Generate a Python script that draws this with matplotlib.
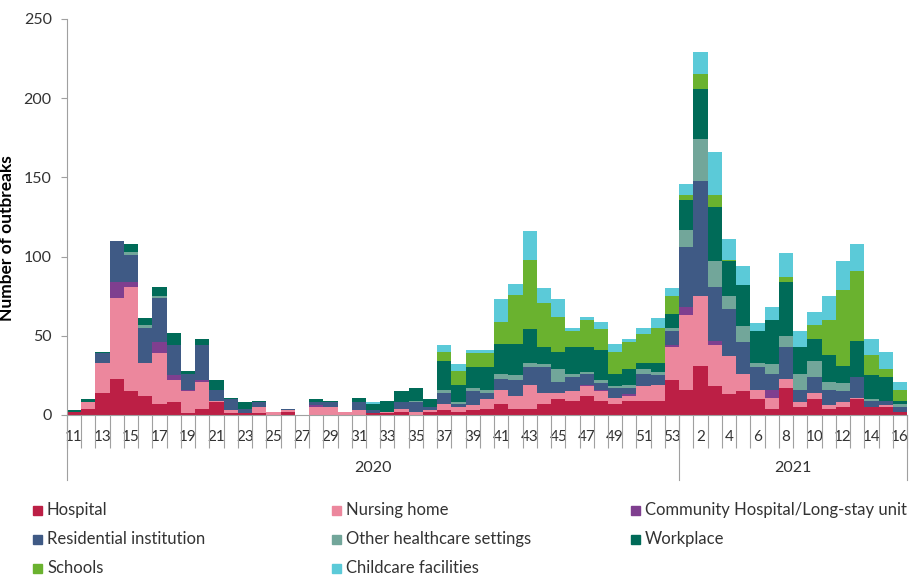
import matplotlib.pyplot as plt
from matplotlib import transforms
from matplotlib.patches import Rectangle

plt.rcParams['font.family'] = ['Lato', 'DejaVu Sans']

# weeks: 2020 wk 11-53, 2021 wk 1-16
weeks_2020 = list(range(11, 54))
weeks_2021 = list(range(1, 17))
week_labels = [str(w) for w in weeks_2020 + weeks_2021]

hospital = [2, 4, 14, 23, 15, 12, 7, 8, 1, 4, 8, 1, 1, 1, 0, 2, 0, 0, 0, 0, 0, 1, 1, 2, 0, 2,
            3, 2, 3, 4, 7, 4, 4, 7, 10, 9, 12, 9, 7, 9, 9, 9, 22,
            16, 31, 18, 13, 15, 10, 4, 17, 5, 10, 4, 5, 10, 5, 5, 2]
nursing = [0, 4, 19, 51, 66, 21, 32, 14, 14, 17, 1, 2, 0, 4, 2, 1, 0, 5, 5, 2, 3, 0, 1, 2, 2, 1,
           4, 3, 3, 6, 9, 8, 15, 7, 4, 6, 6, 6, 4, 3, 9, 10, 21,
           47, 44, 26, 24, 11, 6, 7, 6, 3, 4, 2, 3, 1, 0, 1, 0]
community = [0, 0, 0, 10, 3, 0, 7, 3, 1, 1, 0, 0, 0, 0, 0, 0, 0, 1, 0, 0, 0, 0, 0, 0, 0, 0,
             0, 0, 0, 0, 0, 0, 0, 0, 0, 0, 1, 1, 0, 1, 0, 0, 1,
             5, 0, 3, 0, 0, 0, 5, 0, 0, 0, 0, 0, 0, 0, 0, 0]
residential = [0, 0, 6, 26, 17, 22, 28, 19, 10, 22, 7, 7, 3, 3, 0, 1, 0, 2, 3, 0, 5, 2, 0, 4, 6, 2,
               7, 2, 9, 4, 7, 10, 11, 16, 7, 9, 7, 4, 6, 4, 8, 6, 9,
               38, 73, 34, 30, 20, 14, 10, 20, 8, 10, 10, 7, 13, 4, 3, 3]
other_hc = [0, 0, 0, 0, 2, 2, 1, 0, 0, 0, 0, 0, 0, 0, 0, 0, 0, 0, 0, 0, 0, 0, 0, 0, 1, 0,
            2, 1, 2, 2, 3, 3, 3, 2, 8, 2, 1, 2, 1, 2, 3, 2, 2,
            11, 26, 16, 8, 10, 3, 6, 7, 10, 10, 5, 5, 0, 1, 0, 2]
workplace = [1, 2, 1, 0, 5, 4, 6, 8, 2, 4, 6, 1, 4, 1, 0, 0, 0, 2, 1, 0, 3, 4, 7, 7, 8, 5,
             18, 11, 13, 14, 19, 20, 21, 11, 11, 17, 16, 19, 8, 10, 4, 6, 9,
             19, 32, 34, 22, 26, 20, 28, 34, 17, 14, 17, 11, 23, 15, 15, 2]
schools = [0, 0, 0, 0, 0, 0, 0, 0, 0, 0, 0, 0, 0, 0, 0, 0, 0, 0, 0, 0, 0, 0, 0, 0, 0, 0,
           6, 9, 9, 9, 14, 31, 44, 28, 22, 10, 17, 13, 14, 17, 18, 22, 11,
           3, 9, 8, 1, 0, 0, 0, 3, 0, 9, 22, 48, 44, 13, 5, 7]
childcare = [0, 0, 0, 0, 0, 0, 0, 0, 0, 0, 0, 0, 0, 0, 0, 0, 0, 0, 0, 0, 0, 1, 0, 0, 0, 0,
             4, 4, 2, 2, 14, 7, 18, 9, 11, 2, 2, 5, 5, 2, 4, 6, 5,
             7, 14, 27, 13, 12, 5, 8, 15, 10, 8, 15, 18, 17, 10, 11, 5]

series_names = ['Hospital', 'Nursing home', 'Community Hospital/Long-stay unit',
                'Residential institution', 'Other healthcare settings', 'Workplace',
                'Schools', 'Childcare facilities']
series = [hospital, nursing, community, residential, other_hc, workplace, schools, childcare]
colors = ['#BC1F45', '#EC879D', '#7F3F8F', '#3F5A85', '#72A69A', '#006B58', '#6AB22F', '#5BCAD8']

gray = '#A0A0A0'
txt = '#333333'
n = len(week_labels)

fig = plt.figure(figsize=(9.1, 5.77), dpi=100)
ax = fig.add_axes([67/910, 162/577, 840/910, 396/577])

x = list(range(n))
bottom = [0] * n
for vals, col in zip(series, colors):
    ax.bar(x, vals, width=1.0, bottom=bottom, color=col, linewidth=0)
    bottom = [b + v for b, v in zip(bottom, vals)]

ax.set_xlim(-0.5, n - 0.5)
ax.set_ylim(0, 250)
ax.set_yticks(range(0, 251, 50))
ax.tick_params(axis='y', direction='out', length=4, color=gray, labelsize=11.5,
               labelcolor=txt, pad=7)

# week labels on even positions, tick marks between every bar
ax.set_xticks(x[::2])
ax.set_xticklabels(week_labels[::2])
ax.set_xticks([i - 0.5 for i in range(n + 1)], minor=True)
ax.tick_params(axis='x', which='major', length=0, labelsize=11, labelcolor=txt, pad=11)
ax.tick_params(axis='x', which='minor', length=24, color=gray, width=0.8, direction='out')

for s in ['top', 'right']:
    ax.spines[s].set_visible(False)
for s in ['left', 'bottom']:
    ax.spines[s].set_color(gray)
    ax.spines[s].set_linewidth(0.8)

# year grouping
trans = transforms.blended_transform_factory(ax.transData, ax.transAxes)
for xb in [-0.5, len(weeks_2020) - 0.5, n - 0.5]:
    ax.plot([xb, xb], [0, -65/396], transform=trans, clip_on=False, color=gray, lw=0.8)
ax.text((len(weeks_2020) - 1) / 2, -53/396, '2020', transform=trans, ha='center', va='center',
        fontsize=11.5, color=txt)
ax.text(len(weeks_2020) + (len(weeks_2021) - 1) / 2, -53/396, '2021', transform=trans,
        ha='center', va='center', fontsize=11.5, color=txt)

fig.text(7/910, 1 - 238/577, 'Number of outbreaks', rotation=90, ha='center', va='center',
         fontsize=12.5, fontweight='bold', color='black')

# legend, 3 columns
for i, (name, col) in enumerate(zip(series_names, colors)):
    r, c = divmod(i, 3)
    px = 33 + c * 299
    py = 510 + r * 29
    fig.patches.append(Rectangle((px/910, 1 - (py + 4.5)/577), 9/910, 9/577,
                                 transform=fig.transFigure, color=col))
    fig.text((px + 14)/910, 1 - py/577, name, ha='left', va='center', fontsize=12, color=txt)

fig.savefig('out.png', dpi=100)
